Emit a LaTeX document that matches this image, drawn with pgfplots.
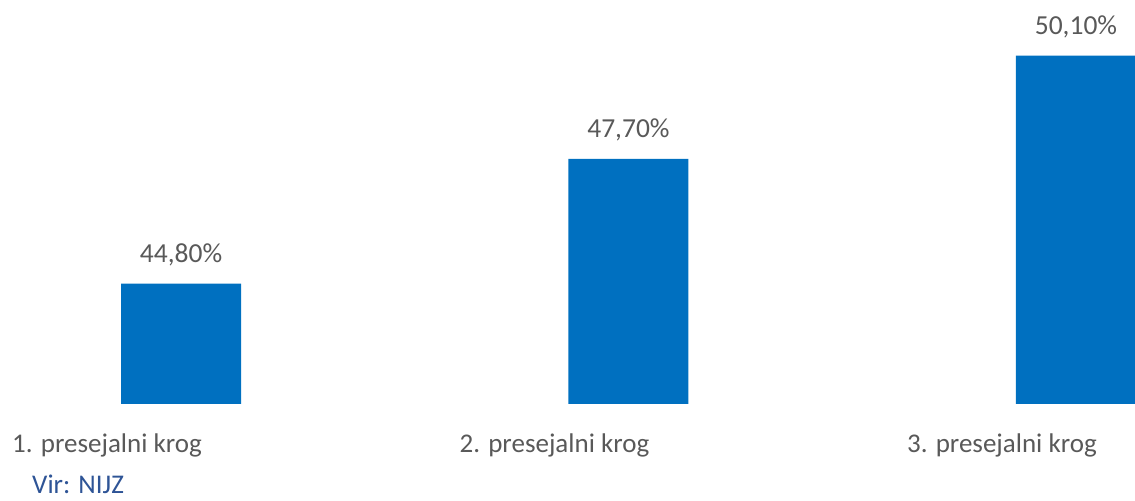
\documentclass[border=0pt]{standalone}
\usepackage{pgfplots}
\pgfplotsset{compat=1.18}
\usepackage{fontspec}
\setmainfont{Carlito}
\definecolor{barblue}{HTML}{0070C0}
\definecolor{txtgray}{HTML}{595959}
\definecolor{virblue}{HTML}{2E5496}
\begin{document}
\begin{tikzpicture}
\begin{axis}[
  scale only axis,
  width=1135pt, height=404pt,
  xmin=-0.4045, xmax=2.132,
  ymin=42, ymax=51.395,
  axis line style={draw=none},
  tick style={draw=none},
  ytick=\empty,
  xtick={0,1,2},
  xticklabels={1. presejalni krog,2. presejalni krog,3. presejalni krog},
  x tick label style={anchor=base, yshift=-44pt, xshift=-74pt, font=\fontsize{27}{32}\selectfont, text=txtgray},
  ybar, bar width=120pt,
  nodes near coords={\pgfmathprintnumber[fixed,fixed zerofill,precision=2,use comma,assume math mode=true]{\pgfplotspointmeta}\%},
  every node near coord/.append style={anchor=base, yshift=21pt, font=\fontsize{27.5}{32}\selectfont, text=txtgray},
  clip=false,
]
\addplot[fill=barblue, draw=none] coordinates {(0,44.8) (1,47.7) (2,50.1)};
\coordinate (bl) at (rel axis cs:0,0);
\coordinate (tr) at (rel axis cs:1,1);
\end{axis}
\node[anchor=base west, inner sep=0pt, text=virblue, font=\fontsize{27}{32}\selectfont] at ([shift={(32pt,-90pt)}]bl) {Vir: NIJZ};
\pgfresetboundingbox
\path (bl) ++(0,-97pt) rectangle (tr);
\end{tikzpicture}
\end{document}
